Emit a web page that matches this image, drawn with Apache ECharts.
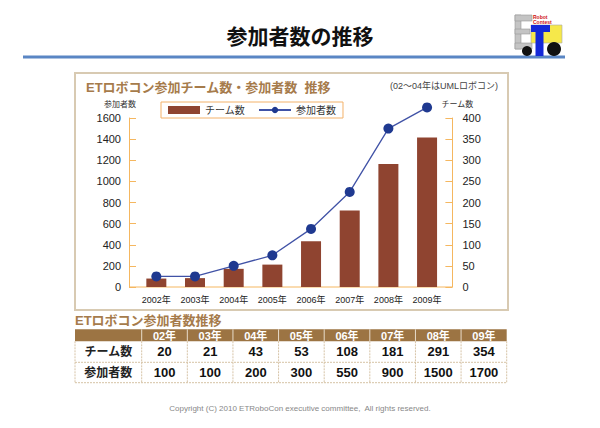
<!DOCTYPE html>
<html><head><meta charset="utf-8">
<script src="https://cdn.jsdelivr.net/npm/echarts@6/dist/echarts.min.js"></script>
<style>html,body{margin:0;padding:0;background:#fff}#c{width:600px;height:428px}</style>
</head><body><div id="c"></div>
<script>
// ---- data ----
const years = ['2002年','2003年','2004年','2005年','2006年','2007年','2008年','2009年'];
const tableYears = ['02年','03年','04年','05年','06年','07年','08年','09年'];
const teams = [20, 21, 43, 53, 108, 181, 291, 354];
const participants = [100, 100, 200, 300, 550, 900, 1500, 1700];
const rowLabels = ['チーム数', '参加者数'];
const seriesNames = ['チーム数', '参加者数'];

const FONT = '"Liberation Sans", "Noto Sans CJK JP", sans-serif';
const orange = '#f5b760';
const tan = '#a67b4b';

// ---- table graphic built from the arrays ----
const tX = 75, tFirst = 66.7, tColW = (506.7 - 141.7) / 8;
const rowY = [329.3, 341.3, 362.3, 382.7];
const table = [];
table.push({type:'rect', shape:{x:tX, y:rowY[0], width:tFirst + tColW*8, height:rowY[1]-rowY[0]}, style:{fill:'#9c7443'}});
for (let i = 0; i < tableYears.length; i++) {
  const cx = tX + tFirst + tColW*i;
  table.push({type:'line', shape:{x1:cx, y1:rowY[0], x2:cx, y2:rowY[1]}, style:{stroke:'#e8dccb', lineWidth:1}});
  table.push({type:'text', x: cx + tColW/2, y:(rowY[0]+rowY[1])/2+0.5, style:{text:tableYears[i], fill:'#fff', font:'bold 11px '+FONT, align:'center', verticalAlign:'middle'}});
}
const rowsData = [teams, participants];
for (let r = 0; r < 2; r++) {
  const y0 = rowY[r+1], y1 = rowY[r+2];
  table.push({type:'line', shape:{x1:tX, y1:y1, x2:tX+tFirst+tColW*8, y2:y1}, style:{stroke:'#d6c3a6', lineWidth:1, lineDash:[2,1]}});
  table.push({type:'text', x: tX + tFirst/2, y:(y0+y1)/2, style:{text:rowLabels[r], fill:'#222', font:'bold 12px '+FONT, align:'center', verticalAlign:'middle'}});
  for (let i = 0; i < rowsData[r].length; i++) {
    const cx = tX + tFirst + tColW*i;
    table.push({type:'text', x: cx + tColW/2, y:(y0+y1)/2, style:{text:String(rowsData[r][i]), fill:'#111', font:'bold 13px '+FONT, align:'center', verticalAlign:'middle'}});
  }
}
for (let i = 0; i <= tableYears.length; i++) {
  const cx = tX + tFirst + tColW*i;
  table.push({type:'line', shape:{x1:cx, y1:rowY[1], x2:cx, y2:rowY[3]}, style:{stroke:'#d6c3a6', lineWidth:1, lineDash:[2,1]}});
}
table.push({type:'line', shape:{x1:tX, y1:rowY[1], x2:tX, y2:rowY[3]}, style:{stroke:'#d6c3a6', lineWidth:1, lineDash:[2,1]}});

// ---- logo ----
const logo = [
  {type:'rect', shape:{x:515, y:15, width:6, height:34}, style:{fill:'#c4c4c4', stroke:'#999', lineWidth:0.6}},
  {type:'rect', shape:{x:515, y:15, width:17, height:6}, style:{fill:'#c4c4c4', stroke:'#999', lineWidth:0.6}},
  {type:'rect', shape:{x:515, y:29, width:15, height:5}, style:{fill:'#c4c4c4', stroke:'#999', lineWidth:0.6}},
  {type:'rect', shape:{x:515, y:43, width:17, height:6}, style:{fill:'#c4c4c4', stroke:'#999', lineWidth:0.6}},
  {type:'rect', shape:{x:531, y:25, width:31, height:18}, style:{fill:'#f6e84a', stroke:'#aaa', lineWidth:0.6}},
  {type:'rect', shape:{x:531, y:25, width:19, height:7}, style:{fill:'#1428d8'}},
  {type:'rect', shape:{x:535.5, y:25, width:8, height:31}, style:{fill:'#1428d8'}},
  {type:'circle', shape:{cx:527, cy:51, r:5}, style:{fill:'#111'}},
  {type:'circle', shape:{cx:554, cy:49, r:7}, style:{fill:'#111'}},
  {type:'text', x:533, y:14, style:{text:'Robot', fill:'#d01010', font:'bold 5px '+FONT}},
  {type:'text', x:533, y:19, style:{text:'Contest', fill:'#d01010', font:'bold 5px '+FONT}}
];

const chart = echarts.init(document.getElementById('c'), null, {renderer:'svg'});
chart.setOption({
  animation: false,
  backgroundColor: '#fff',
  grid: {left: 137, right: 153.6, top: 118, bottom: 141},
  legend: {
    left: 161, top: 102,
    data: [{name: seriesNames[0], icon: 'rect'}, {name: seriesNames[1]}],
    itemWidth: 32, itemHeight: 8, itemGap: 13,
    borderColor: '#f3b26a', borderWidth: 1, padding: [3, 7, 3, 7],
    textStyle: {fontSize: 10, color: '#333', fontFamily: FONT}
  },
  xAxis: {
    type: 'category', data: years,
    axisLine: {show: false}, axisTick: {show: false},
    axisLabel: {fontSize: 9, color: '#222', margin: 8, fontFamily: FONT}
  },
  yAxis: [
    {type:'value', min:0, max:1600, interval:200, position:'left', offset:8,
     name:'参加者数', nameLocation:'end', nameGap:10,
     nameTextStyle:{fontSize:8, color:'#333', fontFamily:FONT, align:'center', padding:[0,18,0,0]},
     axisLine:{show:true, lineStyle:{color:orange, width:1}},
     axisTick:{show:true, inside:true, length:7, lineStyle:{color:orange}},
     axisLabel:{fontSize:11, color:'#222', margin:8, fontFamily:FONT, formatter: v => String(v)},
     splitLine:{show:false}},
    {type:'value', min:0, max:400, interval:50, position:'right', offset:6,
     name:'チーム数', nameLocation:'end', nameGap:10,
     nameTextStyle:{fontSize:8, color:'#333', fontFamily:FONT, align:'center', padding:[0,0,0,10]},
     axisLine:{show:true, lineStyle:{color:orange, width:1}},
     axisTick:{show:true, inside:true, length:7, lineStyle:{color:orange}},
     axisLabel:{fontSize:11, color:'#222', margin:10, fontFamily:FONT, formatter: v => String(v)},
     splitLine:{show:false}}
  ],
  series: [
    {name: seriesNames[0], type:'bar', yAxisIndex:1, data: teams, barWidth:20,
     itemStyle:{color:'#8f4430'}},
    {name: seriesNames[1], type:'line', yAxisIndex:0, data: participants, clip:false,
     symbol:'circle', symbolSize:10, z:5,
     lineStyle:{color:'#4052a6', width:1.3}, itemStyle:{color:'#1f3990'}}
  ],
  graphic: [
    {type:'text', x:300, y:35, style:{text:'参加者数の推移', fill:'#111', font:'bold 21px "Noto Sans CJK JP", sans-serif', align:'center', verticalAlign:'middle'}},
    {type:'rect', shape:{x:23, y:55.5, width:542, height:3}, style:{fill:'#5a86c4'}},
    ...logo,
    {type:'rect', shape:{x:75, y:73, width:433, height:237}, style:{fill:'none', stroke:'#d8cab2', lineWidth:2}},
    {type:'text', x:86, y:87, style:{text:'ETロボコン参加チーム数・参加者数  推移', fill:tan, font:'bold 13px '+FONT, verticalAlign:'middle'}},
    {type:'text', x:498, y:86, style:{text:'(02〜04年はUMLロボコン)', fill:'#444', font:'9px '+FONT, align:'right', verticalAlign:'middle'}},
    {type:'line', shape:{x1:129, y1:287, x2:452, y2:287}, style:{stroke:orange, lineWidth:1}},
    {type:'text', x:75, y:320, style:{text:'ETロボコン参加者数推移', fill:tan, font:'bold 13px '+FONT, verticalAlign:'middle'}},
    ...table,
    {type:'text', x:300, y:408, style:{text:'Copyright (C) 2010 ETRoboCon executive committee,  All rights reserved.', fill:'#888', font:'8px '+FONT, align:'center', verticalAlign:'middle'}}
  ]
});
</script></body></html>
